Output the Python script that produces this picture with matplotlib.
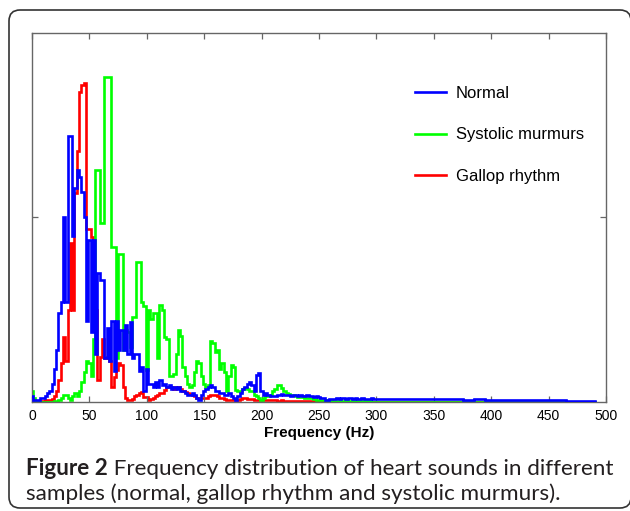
import numpy as np
import matplotlib.pyplot as plt
from matplotlib.patches import FancyBboxPatch
from matplotlib.transforms import IdentityTransform

# frequency bins (Hz): 2 Hz up to 300 Hz, 10 Hz in the flat tail
FREQ = np.concatenate([np.arange(0, 300, 2), np.arange(300, 500, 10)])

NORMAL = [
    1.5, 0.5, 0.5, 0.5, 1, 1, 1.5, 2.5, 3, 5,
    9, 14, 24, 27, 50, 27, 72, 72, 45, 58,
    63, 61, 57, 50, 22, 44, 19, 44, 13, 35,
    33, 33, 12, 20, 11, 22, 8.5, 22, 14, 19.5,
    14, 21, 13, 21.8, 12, 13, 13, 8.5, 9.5, 3,
    9, 5, 5, 4, 5.5, 4, 6, 4.5, 5, 4,
    4.5, 3.5, 4, 3.5, 4, 3, 3, 2.5, 2, 1.9,
    2.5, 2, 1, 0.5, 2, 3, 3.5, 4, 4.6, 4,
    3, 3, 2.5, 2.5, 2, 2, 2.5, 1.5, 1, 0.5,
    1.5, 2.5, 3.5, 4, 5, 5.5, 4.5, 3, 7.3, 7.8,
    3, 2, 2.5, 2, 1.5, 1.5, 1.5, 1.9, 2, 2.2,
    2, 1.8, 2, 1.6, 1.8, 2, 1.6, 1.8, 1.5, 1.7,
    1.8, 1.5, 1.6, 1.4, 1.5, 1.3, 1.2, 1, 0.6, 0.5,
    0.7, 0.8, 0.9, 1.0, 0.9, 1.1, 1.0, 0.9, 1.0, 1.1,
    0.9, 1.0, 0.8, 0.9, 1.0, 0.9, 0.8, 0.9, 1.0, 0.9,
    0.9, 0.8, 0.9, 0.8, 0.7, 0.8, 0.7, 0.7, 0.6, 0.7,
    0.6, 0.6, 0.5, 0.6, 0.5, 0.5, 0.5, 0.4, 0.4, 0.3,
]

SYSTOLIC = [
    3, 1, 0, 0, 0, 0, 0, 0, 0, 0,
    0.3, 0.3, 0.5, 1, 2, 2, 1, 0.5, 1.5, 2.5,
    1.5, 3, 5.5, 8, 11, 10.5, 7, 17, 63, 63,
    48.5, 48.5, 88, 88, 88, 42, 42, 12, 40, 40,
    14, 19.5, 19, 15, 23, 23, 38, 38, 27, 26,
    8.7, 25, 22.5, 24, 24, 12, 26.3, 25, 17.7, 17,
    7, 7, 7.5, 13, 19.5, 18, 9.6, 7, 5, 4.1,
    4.5, 8, 11, 10.5, 7, 5, 4, 4.5, 16.4, 16,
    13.6, 14, 9, 10.5, 8, 3, 7, 10, 9.5, 3.2,
    3, 3, 3.5, 3.8, 3.5, 3, 3, 2, 1.5, 1,
    0.5, 1, 1.5, 1.5, 2, 3, 3.5, 4.5, 4.5, 3.8,
    3, 2.5, 2.2, 2, 1.8, 1.5, 1.4, 1.3, 1.5, 1.2,
    1, 1, 1, 0.8, 0.6, 0.5, 0.5, 0.6, 0.5, 0.4,
    0.5, 0.4, 0.4, 0.3, 0.4, 0.3, 0.3, 0.3, 0.2, 0.3,
    0.2, 0.2, 0.3, 0.2, 0.2, 0.2, 0.2, 0.2, 0.1, 0.1,
    0.1, 0.1, 0.1, 0.1, 0.1, 0.1, 0.1, 0.1, 0.1, 0.1,
    0.1, 0.1, 0.1, 0.1, 0.1, 0.1, 0.1, 0.1, 0.1, 0.1,
]

GALLOP = [
    1, 0.5, 0.3, 0.3, 0.3, 0.3, 0.5, 0.5, 0.5, 0.8,
    1.5, 3, 6, 10.5, 17.7, 11, 25, 43, 25, 56.6,
    68, 84, 86, 86.4, 47, 47, 44.8, 30, 25, 6,
    12.3, 17, 12, 12.3, 11, 4.1, 6.9, 8.7, 10.5, 10,
    4, 1, 0.5, 0.5, 0.8, 1.5, 2, 2.4, 2.8, 1.4,
    1.4, 0.5, 0.8, 1.2, 1.5, 2, 2.4, 2.4, 3.2, 4,
    4.1, 4, 3.5, 4, 4.1, 3.5, 3, 2.8, 2.4, 2.2,
    1.8, 1.5, 1.2, 1.2, 1, 1, 1.2, 1.5, 1.8, 1.9,
    1.8, 1.5, 1.2, 1, 0.8, 0.6, 0.5, 0.5, 0.5, 0.5,
    0.6, 0.8, 1, 1, 0.9, 0.8, 0.7, 0.6, 0.5, 0.5,
    0.5, 0.6, 0.5, 0.5, 0.6, 0.5, 0.5, 0.4, 0.4, 0.5,
    0.4, 0.4, 0.4, 0.3, 0.3, 0.4, 0.3, 0.3, 0.3, 0.3,
    0.3, 0.3, 0.3, 0.2, 0.2, 0.3, 0.2, 0.2, 0.2, 0.2,
    0.2, 0.1, 0.1, 0.1, 0.1, 0.1, 0.1, 0.1, 0.1, 0.1,
    0.1, 0.1, 0.1, 0.1, 0.1, 0.1, 0.1, 0.1, 0.1, 0.1,
    0.1, 0.1, 0.1, 0.1, 0.1, 0.1, 0.1, 0.1, 0.1, 0.1,
    0.1, 0.1, 0.1, 0.1, 0.1, 0.1, 0.1, 0.1, 0.1, 0.1,
]

XTICKS = list(range(0, 501, 50))
SERIES = [
    ("Normal", NORMAL, "#0000ff"),
    ("Systolic murmurs", SYSTOLIC, "#00ff00"),
    ("Gallop rhythm", GALLOP, "#ff0000"),
]
CAPTION_BOLD = "Figure 2"
CAPTION_1 = " Frequency distribution of heart sounds in different"
CAPTION_2 = "samples (normal, gallop rhythm and systolic murmurs)."

plt.rcParams["font.family"] = ["Liberation Sans", "DejaVu Sans"]
AXCOL = "#666666"

fig = plt.figure(figsize=(6.3, 5.11), dpi=100)
ax = fig.add_axes([32 / 630, 109 / 511, 574 / 630, 369 / 511])

handles = {}
# blue on top, red underneath
for z, (name, vals, col) in zip([3, 2, 1], SERIES):
    (h,) = ax.plot(FREQ, vals, drawstyle="steps-mid", color=col, lw=1.9,
                   zorder=z, solid_joinstyle="miter")
    handles[name] = h

ax.set_xlim(0, 500)
ax.set_ylim(0, 100)
ax.set_xticks(XTICKS)
ax.set_yticks([50])
ax.set_yticklabels([])
ax.tick_params(direction="in", length=4, width=0.9, color=AXCOL,
               top=True, right=True, labelsize=10, pad=5)
for sp in ax.spines.values():
    sp.set_color(AXCOL)
    sp.set_linewidth(1.0)
ax.set_xlabel("Frequency (Hz)", fontsize=11, fontweight="bold", labelpad=2)

ax.legend([handles[n] for n, _, _ in SERIES], [n for n, _, _ in SERIES],
          loc="upper left", bbox_to_anchor=(0.667, 0.857), frameon=False,
          fontsize=12, handlelength=1.85, handletextpad=0.6,
          labelspacing=1.6, borderpad=0, borderaxespad=0)

# rounded frame around figure and caption
frame = FancyBboxPatch((9, 3), 622, 498, boxstyle="round,pad=0,rounding_size=11",
                       transform=IdentityTransform(), fill=False,
                       edgecolor="#333333", lw=1.2)
fig.patches.append(frame)

cap = dict(fontsize=16.2, family="Lato", color="#231f20")
t1 = fig.text(26 / 630, 36 / 511, CAPTION_BOLD, fontweight="bold", **cap)
ax.annotate(CAPTION_1, xy=(1, 0), xycoords=t1, va="bottom", **cap)
fig.text(26 / 630, 11 / 511, CAPTION_2, **cap)

fig.savefig("out.png", dpi=100)
